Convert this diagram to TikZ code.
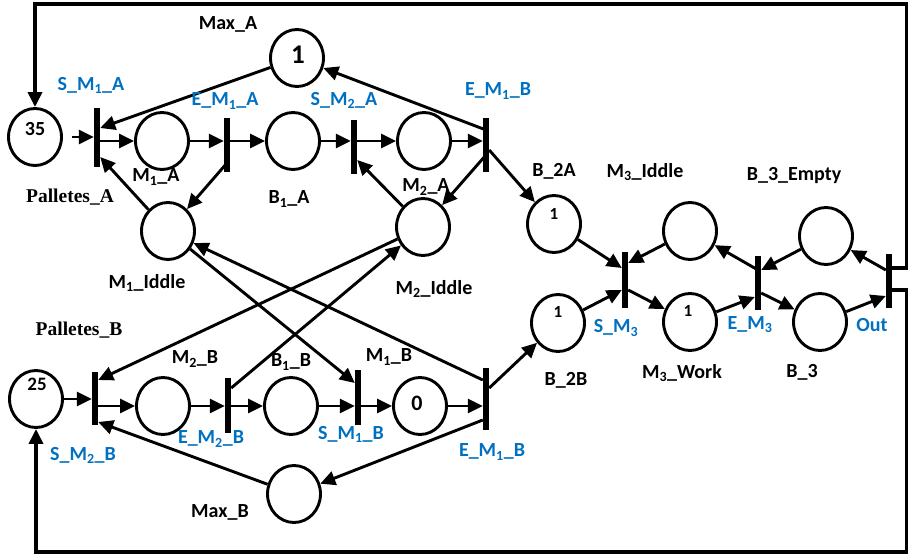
\documentclass[tikz,border=0pt]{standalone}
\usepackage{fontspec}
\setmainfont{Carlito}
\newfontfamily\timesfam{Liberation Serif}
\usetikzlibrary{shapes.geometric,arrows.meta}
\definecolor{lblblue}{RGB}{0,112,192}
\newcommand\lsub[1]{\textsubscript{#1}}
\tikzset{
  placenode/.style={ellipse, draw, line width=2.9pt, minimum width=53pt, minimum height=57pt, inner sep=0pt},
  transbar/.style={rectangle, fill=black, draw=none, inner sep=0pt, minimum width=6pt},
  flow/.style={line width=2.9pt, -{Triangle[length=15pt,width=14pt]}},
  loopline/.style={line width=3.6pt, -{Triangle[length=15pt,width=14pt]}},
  lbl/.style={font=\fontsize{20}{23}\selectfont\bfseries, inner sep=0pt},
  blbl/.style={lbl, text=lblblue},
  slbl/.style={font=\fontsize{19.5}{22}\timesfam\bfseries, inner sep=0pt},
  tok/.style={font=\fontsize{#1}{#1}\selectfont\bfseries, inner sep=0pt},
}
\begin{document}
\begin{tikzpicture}[x=1pt,y=-1pt]
\useasboundingbox (0,0) rectangle (908,556);

% ---- places ----
\node[placenode] (pA)   at (35,137)  {};
\node[placenode] (maxA) at (297,58)  {};
\node[placenode] (m1a)  at (162,141) {};
\node[placenode] (b1a)  at (293,141) {};
\node[placenode] (m2a)  at (424,141) {};
\node[placenode] (m1i)  at (168,231) {};
\node[placenode] (m2i)  at (423,227) {};
\node[placenode] (b2a)  at (554,224) {};
\node[placenode] (m3i)  at (690,231) {};
\node[placenode] (b3e)  at (826,236) {};
\node[placenode] (b2b)  at (558,323) {};
\node[placenode] (m3w)  at (690,322) {};
\node[placenode] (b3)   at (820,322) {};
\node[placenode] (pB)   at (36,399)  {};
\node[placenode] (m2b)  at (163,406) {};
\node[placenode] (b1b)  at (291,406) {};
\node[placenode] (m1b)  at (420,406) {};
\node[placenode] (maxB) at (294,494) {};

% ---- tokens ----
\node[tok=20] (kA)   at (35,129)  {35};
\node[tok=27] (kMA)  at (298,55)  {1};
\node[tok=17] (kB2A) at (554,214) {1};
\node[tok=17] (kB2B) at (558,312) {1};
\node[tok=17] (kM3W) at (688,311) {1};
\node[tok=22] (kM1B) at (417,403) {0};
\node[tok=19] (kB)   at (37,384)  {25};

% ---- transitions ----
\node[transbar, minimum height=59pt] (tSM1A)  at (97,137.5) {};
\node[transbar, minimum height=54pt] (tEM1A)  at (227,145) {};
\node[transbar, minimum height=54pt] (tSM2A)  at (354,147) {};
\node[transbar, minimum height=54pt] (tEMt)   at (486,145) {};
\node[transbar, minimum height=55pt] (tSM3)   at (625,280) {};
\node[transbar, minimum height=54pt] (tEM3)   at (758,283) {};
\node[transbar, minimum height=53pt] (tOut)   at (889,281) {};
\node[transbar, minimum height=53pt] (tSM2B)  at (95,398)  {};
\node[transbar, minimum height=55pt] (tEM2B)  at (228,405) {};
\node[transbar, minimum height=55pt] (tSM1B)  at (358,397) {};
\node[transbar, minimum height=62pt] (tEM1Bb) at (486,399) {};

% ---- corners of the return loops ----
\coordinate (cTR) at (907,4);
\coordinate (cBR) at (907,552);

% ---- line A ----
\draw[flow] ([xshift=9pt]pA.east) -- (tSM1A.west |- pA);
\draw[flow] (maxA) -- ([yshift=9.5pt]tSM1A.east);
\draw[flow] (m1i) -- ([yshift=-19.5pt]tSM1A.east);
\draw[flow] (tSM1A.east |- m1a) -- (m1a);
\draw[flow] (m1a) -- (tEM1A.west |- m1a);
\draw[flow] (tEM1A.east |- b1a) -- (b1a);
\draw[flow] ([yshift=-18pt]tEM1A.center) -- (m1i);
\draw[flow] (b1a) -- (tSM2A.west |- b1a);
\draw[flow] (tSM2A.east |- m2a) -- (m2a);
\draw[flow] (m2i) -- ([yshift=-13pt]tSM2A.east);
\draw[flow] (m2a) -- (tEMt.west |- m2a);
\draw[flow] ([yshift=15pt]tEMt.center) -- (maxA);
\draw[flow] ([yshift=-10pt]tEMt.center) -- (m2i);
\draw[flow] ([yshift=-5pt]tEMt.east) -- (b2a);

% ---- line B ----
\draw[flow] (pB) -- (tSM2B.west |- pB);
\draw[flow] (tSM2B.east |- m2b) -- (m2b);
\draw[flow] (maxB) -- ([yshift=-24pt]tSM2B.east);
\draw[flow] (m2i) -- ([yshift=18pt]tSM2B.east);
\draw[flow] (m2b) -- (tEM2B.west |- m2b);
\draw[flow] (tEM2B.east |- b1b) -- (b1b);
\draw[flow] ([yshift=17pt]tEM2B.east) -- (m2i);
\draw[flow] (b1b) -- (tSM1B.west |- b1b);
\draw[flow] (m1i) -- ([yshift=14pt]tSM1B.west);
\draw[flow] (tSM1B.east |- m1b) -- (m1b);
\draw[flow] (m1b) -- (tEM1Bb.west |- m1b);
\draw[flow] ([yshift=19pt]tEM1Bb.west) -- (m1i);
\draw[flow] ([yshift=11pt]tEM1Bb.east) -- (b2b);
\draw[flow] ([yshift=-21pt]tEM1Bb.west) -- (maxB);

% ---- machine 3 ----
\draw[flow] (b2a) -- ([yshift=12pt]tSM3.west);
\draw[flow] (m3i) -- ([yshift=17pt]tSM3.east);
\draw[flow] (b2b) -- ([yshift=-10pt]tSM3.west);
\draw[flow] ([yshift=-10pt]tSM3.east) -- (m3w);
\draw[flow] (m3w) -- ([yshift=-14pt]tEM3.west);
\draw[flow] ([yshift=13pt]tEM3.center) -- (m3i);
\draw[flow] (b3e) -- ([yshift=13pt]tEM3.east);
\draw[flow] ([yshift=-10pt]tEM3.east) -- (b3);
\draw[flow] (b3) -- ([yshift=-15pt]tOut.west);
\draw[flow] ([yshift=11pt]tOut.west) -- (b3e);

% ---- return loops ----
\draw[loopline] ([yshift=13pt]tOut.east) -| (cTR) -| (pA.north);
\draw[loopline] ([yshift=-9pt]tOut.east) -| (cBR) -| (pB.south);

% ---- labels ----
\node[lbl]  (lMaxA)  at (228,24)  {Max\_A};
\node[blbl] (lSM1A)  at (91,85)   {S\_M\lsub{1}\_A};
\node[blbl] (lEM1A)  at (225,101) {E\_M\lsub{1}\_A};
\node[blbl] (lSM2A)  at (344,100) {S\_M\lsub{2}\_A};
\node[blbl] (lEMt)   at (498,91)  {E\_M\lsub{1}\_B};
\node[lbl]  (lM1A)   at (156,177) {M\lsub{1}\_A};
\node[slbl] (lPA)    at (70,197)  {Palletes\_A};
\node[lbl]  (lB1A)   at (289,199) {B\lsub{1}\_A};
\node[lbl]  (lM2A)   at (426,187) {M\lsub{2}\_A};
\node[lbl]  (lB2A)   at (554,171) {B\_2A};
\node[lbl]  (lM3I)   at (645,172) {M\lsub{3}\_Iddle};
\node[lbl]  (lB3E)   at (794,176) {B\_3\_Empty};
\node[lbl]  (lM1I)   at (147,283) {M\lsub{1}\_Iddle};
\node[lbl]  (lM2I)   at (434,289) {M\lsub{2}\_Iddle};
\node[blbl] (lSM3)   at (616,328) {S\_M\lsub{3}};
\node[blbl] (lEM3)   at (750,325) {E\_M\lsub{3}};
\node[blbl] (lOut)   at (872,325) {Out};
\node[slbl] (lPB)    at (79,330)  {Palletes\_B};
\node[lbl]  (lM2B)   at (195,359) {M\lsub{2}\_B};
\node[lbl]  (lB1B)   at (291,362) {B\lsub{1}\_B};
\node[lbl]  (lM1B)   at (389,357) {M\lsub{1}\_B};
\node[lbl]  (lB2B)   at (566,380) {B\_2B};
\node[lbl]  (lM3W)   at (682,373) {M\lsub{3}\_Work};
\node[lbl]  (lB3)    at (802,372) {B\_3};
\node[blbl] (lEM2B)  at (211,439) {E\_M\lsub{2}\_B};
\node[blbl] (lSM1B)  at (351,434) {S\_M\lsub{1}\_B};
\node[blbl] (lSM2B)  at (83,455)  {S\_M\lsub{2}\_B};
\node[blbl] (lEM1Bb) at (492,452) {E\_M\lsub{1}\_B};
\node[lbl]  (lMaxB)  at (220,512) {Max\_B};
\end{tikzpicture}
\end{document}
